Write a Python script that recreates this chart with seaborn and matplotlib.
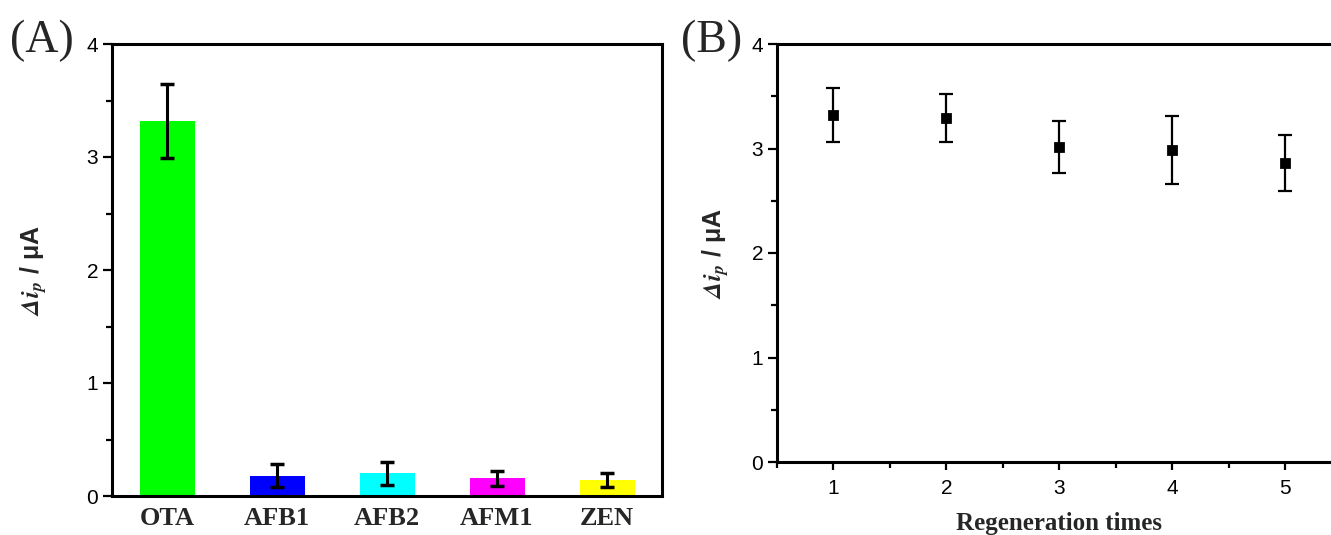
import numpy as np
import pandas as pd
import seaborn as sns
import matplotlib.pyplot as plt
from matplotlib.ticker import MultipleLocator

# panel A - selectivity
toxins = ['OTA', 'AFB1', 'AFB2', 'AFM1', 'ZEN']
signal = [3.32, 0.18, 0.20, 0.155, 0.14]
signal_err = [0.33, 0.10, 0.105, 0.07, 0.06]
bar_colors = ['#00ff00', '#0000ff', '#00ffff', '#ff00ff', '#ffff00']

# panel B - regeneration
regen_times = [1, 2, 3, 4, 5]
regen_signal = [3.32, 3.295, 3.015, 2.99, 2.86]
regen_err = [0.26, 0.23, 0.245, 0.325, 0.27]

sns.set_theme(style='ticks')
plt.rcParams['font.family'] = ['Liberation Sans', 'DejaVu Sans']
plt.rcParams['mathtext.fontset'] = 'stix'
plt.rcParams['axes.linewidth'] = 2.2

W, H = 1331, 535
fig = plt.figure(figsize=(W / 100, H / 100), dpi=100)
ax_a = fig.add_axes([112 / W, (H - 496) / H, (662 - 112) / W, (496 - 44) / H])
ax_b = fig.add_axes([777 / W, (H - 462) / H, (1341.5 - 777) / W, (462 - 44) / H])

df_a = pd.DataFrame({'toxin': toxins, 'signal': signal})
sns.barplot(data=df_a, x='toxin', y='signal', hue='toxin', palette=bar_colors,
            saturation=1, width=0.5, errorbar=None, legend=False, linewidth=0,
            ax=ax_a)
ax_a.errorbar(np.arange(len(toxins)), signal, yerr=signal_err, fmt='none',
              ecolor='black', elinewidth=2.2, capsize=5, capthick=2.5)

df_b = pd.DataFrame({'times': regen_times, 'signal': regen_signal})
ax_b.errorbar(regen_times, regen_signal, yerr=regen_err, fmt='none',
              ecolor='black', elinewidth=1.6, capsize=5, capthick=1.6, zorder=2)
sns.scatterplot(data=df_b, x='times', y='signal', marker='s', s=50,
                color='black', edgecolor='black', ax=ax_b, zorder=3)

ylab = r'$\mathbfit{\Delta i}_{\mathbfit{p}}$' + ' / μA'
for ax in (ax_a, ax_b):
    for sp in ax.spines.values():
        sp.set_visible(True)
        sp.set_linewidth(2.2)
        sp.set_color('black')
    ax.set_ylim(0, 4)
    ax.yaxis.set_major_locator(MultipleLocator(1))
    ax.yaxis.set_minor_locator(MultipleLocator(0.5))
    ax.tick_params(axis='y', which='major', direction='out', length=6.5,
                   width=1.6, labelsize=15, pad=3.5, colors='black')
    ax.tick_params(axis='y', which='minor', direction='out', length=4,
                   width=1.6, colors='black')
    ax.set_ylabel(ylab, fontsize=18, fontweight='bold')
    ax.set_facecolor('white')

ax_a.set_xlim(-0.5, 4.5)
ax_a.tick_params(axis='x', length=0, pad=8)
for lbl in ax_a.get_xticklabels():
    lbl.set_fontfamily('Liberation Serif')
    lbl.set_fontweight('bold')
    lbl.set_fontsize(19)
ax_a.set_xlabel('')
ax_a.yaxis.set_label_coords(-0.115, 0.5)

ax_b.set_xlim(0.5, 5.5)
ax_b.xaxis.set_major_locator(MultipleLocator(1))
ax_b.xaxis.set_minor_locator(MultipleLocator(0.5))
ax_b.tick_params(axis='x', which='major', direction='out', length=6,
                 width=1.6, labelsize=15, pad=6, colors='black')
ax_b.tick_params(axis='x', which='minor', direction='out', length=4,
                 width=1.6, colors='black')
ax_b.set_xlabel('Regeneration times', fontfamily='Liberation Serif',
                fontweight='bold', fontsize=18, labelpad=10)
ax_b.yaxis.set_label_coords(-0.082, 0.5)

fig.text(42 / W, 1 - 41 / H, '(A)', fontfamily='Liberation Serif', fontsize=33,
         ha='center', va='center')
fig.text(712 / W, 1 - 41 / H, '(B)', fontfamily='Liberation Serif', fontsize=33,
         ha='center', va='center')

fig.savefig('out.png', dpi=100)
